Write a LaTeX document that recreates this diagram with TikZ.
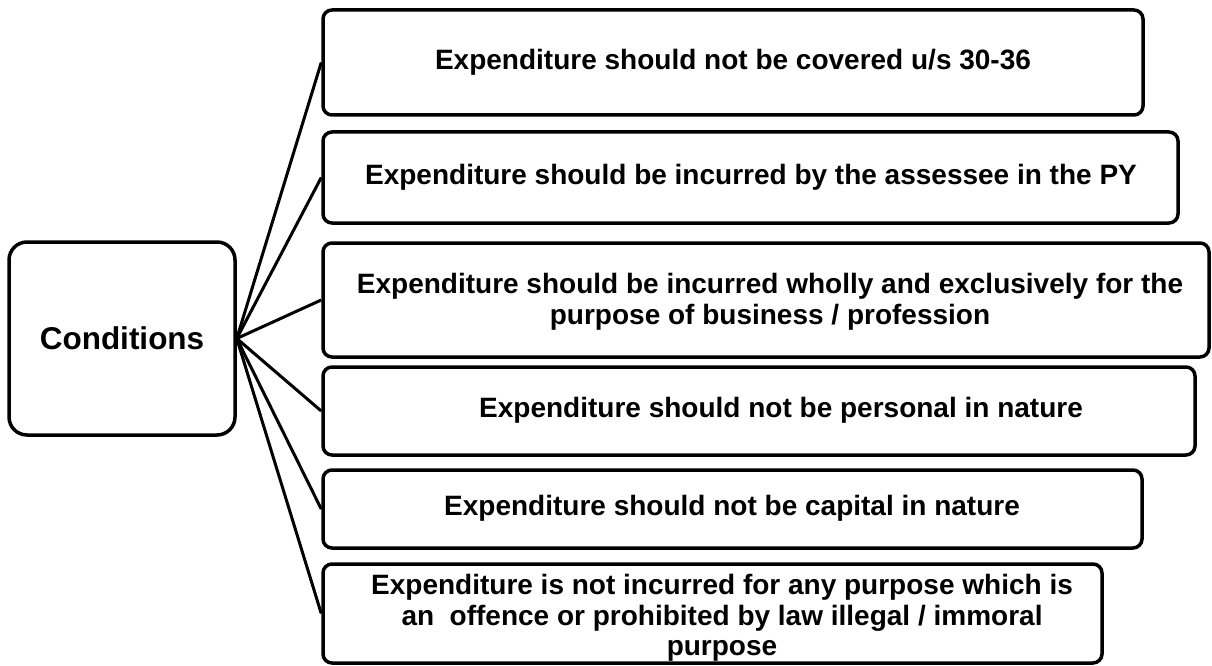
\documentclass[tikz,border=0pt]{standalone}
\usepackage{fontspec}
\setmainfont{Liberation Sans}
\begin{document}
\begin{tikzpicture}[x=1pt,y=-1pt,
  box/.style={draw, line width=3.5pt, rounded corners=9pt, inner sep=0pt},
  txt/.style={font=\fontsize{28}{30.5}\selectfont\bfseries, align=center, inner sep=0pt},
  conn/.style={line width=3pt}]
\useasboundingbox (0,0) rectangle (1212,666);
\node[draw, line width=3.5pt, rounded corners=18pt, minimum width=226pt, minimum height=193pt,
  font=\fontsize{31.5}{34}\selectfont\bfseries] (c) at (122,338.5) {Conditions};
\node[box, minimum width=820pt, minimum height=105pt] (b1) at (733,62.5) {};
\node[box, minimum width=855pt, minimum height=91pt] (b2) at (750.5,177.5) {};
\node[box, minimum width=886pt, minimum height=114pt] (b3) at (766,300) {};
\node[box, minimum width=872pt, minimum height=88pt] (b4) at (759,411) {};
\node[box, minimum width=819pt, minimum height=78pt] (b5) at (732.5,509) {};
\node[box, minimum width=779pt, minimum height=99pt] (b6) at (712.5,613.5) {};
\node[txt] (t1) at (733,62) {Expenditure should not be covered u/s 30-36};
\node[txt] (t2) at (751,177) {Expenditure should be incurred by the assessee in the PY};
\node[txt] (t3) at (770,302) {Expenditure should be incurred wholly and exclusively for the\\purpose of business / profession};
\node[txt] (t4) at (781,410) {Expenditure should not be personal in nature};
\node[txt] (t5) at (732,508) {Expenditure should not be capital in nature};
\node[txt] (t6) at (722,618) {Expenditure is not incurred for any purpose which is\\an\ \ offence or prohibited by law illegal / immoral\\purpose};
\foreach \b in {b1,b2,b3,b4,b5,b6}
  \draw[conn] (c.east) -- (\b.west);
\end{tikzpicture}
\end{document}
